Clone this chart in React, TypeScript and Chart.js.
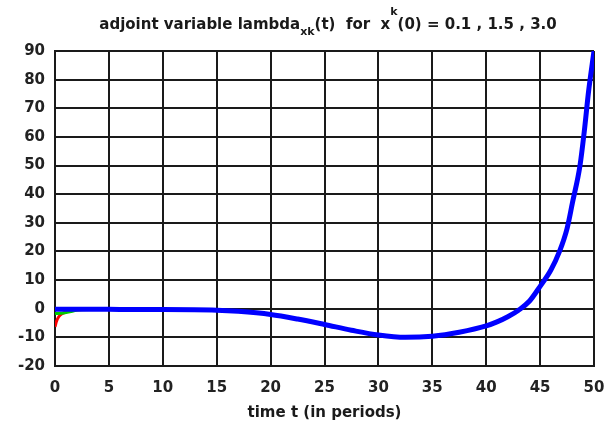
import React, { useEffect, useRef } from "react";
import { Chart, registerables } from "chart.js";

Chart.register(...registerables);

const blueT = [0, 5, 7, 10, 15, 17, 20, 22.5, 25, 27.5, 30, 32.5, 35, 37.5, 40, 41, 42, 43, 44, 45, 46, 46.8, 47.5, 48, 48.7, 49.1, 49.5, 50];
const blueY = [-0.2, -0.2, -0.3, -0.3, -0.5, -0.9, -2, -3.6, -5.5, -7.5, -9.2, -10, -9.6, -8.2, -6, -4.6, -2.8, -0.5, 2.6, 7.8, 13.5, 20, 28, 37, 50, 62, 76, 90];
const greenT = [0, 0.8, 1.5, 2.2, 5];
const greenY = [-1.7, -1.5, -1.0, -0.4, -0.2];
const redT = [0, 0.15, 0.35, 0.6, 0.9, 1.3, 3];
const redY = [-6.3, -4.3, -2.8, -1.9, -1.3, -0.6, -0.2];

const xTicksMin = 0;
const xTicksMax = 50;
const xStep = 5;
const yTicksMin = -20;
const yTicksMax = 90;
const yStep = 10;

const xTitle = "time t (in periods)";
const titleParts = [
  { text: "adjoint variable lambda", kind: "n" },
  { text: "xk", kind: "sub" },
  { text: "(t)  for  x", kind: "n" },
  { text: "k", kind: "sup" },
  { text: "(0) = 0.1 , 1.5 , 3.0", kind: "n" },
];

const FONT = "'DejaVu Sans', Verdana, sans-serif";

const toPts = (t: number[], y: number[]) => t.map((v, i) => ({ x: v, y: y[i] }));

const titlePlugin = {
  id: "customTitle",
  afterDraw(chart: any) {
    const ctx = chart.ctx as CanvasRenderingContext2D;
    ctx.save();
    const mainFont = `bold 15px ${FONT}`;
    const smallFont = `bold 11px ${FONT}`;
    let total = 0;
    const widths = titleParts.map((p) => {
      ctx.font = p.kind === "n" ? mainFont : smallFont;
      const w = ctx.measureText(p.text).width;
      total += w;
      return w;
    });
    const cx = 328;
    const baseY = 29;
    let x = cx - total / 2;
    ctx.fillStyle = "#1a1a1a";
    ctx.textBaseline = "alphabetic";
    ctx.textAlign = "left";
    titleParts.forEach((p, i) => {
      ctx.font = p.kind === "n" ? mainFont : smallFont;
      const y = p.kind === "sub" ? baseY + 6 : p.kind === "sup" ? baseY - 14 : baseY;
      ctx.fillText(p.text, x, y);
      x += widths[i];
    });
    ctx.restore();
  },
};

export default function App() {
  const ref = useRef<HTMLCanvasElement | null>(null);
  useEffect(() => {
    if (!ref.current) return;
    Chart.defaults.font.family = FONT;
    Chart.defaults.color = "#1a1a1a";
    const chart = new Chart(ref.current, {
      type: "line",
      data: {
        datasets: [
          {
            data: toPts(blueT, blueY),
            borderColor: "#0000ff",
            borderWidth: 5,
            pointRadius: 0,
            cubicInterpolationMode: "monotone",
            fill: false,
            order: 1,
          },
          {
            data: toPts(greenT, greenY),
            borderColor: "#00cc00",
            borderWidth: 3,
            pointRadius: 0,
            cubicInterpolationMode: "monotone",
            fill: false,
            order: 2,
          },
          {
            data: toPts(redT, redY),
            borderColor: "#ff0000",
            borderWidth: 3,
            pointRadius: 0,
            cubicInterpolationMode: "monotone",
            fill: false,
            order: 3,
          },
        ],
      },
      options: {
        responsive: false,
        animation: false,
        events: [],
        layout: { padding: { top: 51, right: 13, left: 0, bottom: 0 } },
        plugins: { legend: { display: false }, tooltip: { enabled: false }, title: { display: false } },
        scales: {
          x: {
            type: "linear",
            min: xTicksMin,
            max: xTicksMax,
            ticks: { stepSize: xStep, padding: 13, font: { size: 15, weight: "bold" }, color: "#222", maxRotation: 0, autoSkip: false },
            grid: { color: "#1a1a1a", lineWidth: 2, drawTicks: false },
            border: { color: "#1a1a1a", width: 2 },
            title: { display: true, text: xTitle, font: { size: 15, weight: "bold" }, color: "#1a1a1a", padding: { top: 0, bottom: 2 } },
            afterFit(scale: any) {
              scale.height = 58;
              scale.paddingLeft = 0;
              scale.paddingRight = 0;
            },
          },
          y: {
            type: "linear",
            min: yTicksMin,
            max: yTicksMax,
            ticks: { stepSize: yStep, padding: 10, font: { size: 15, weight: "bold" }, color: "#222", autoSkip: false },
            grid: { color: "#1a1a1a", lineWidth: 2, drawTicks: false },
            border: { color: "#1a1a1a", width: 2 },
            afterFit(scale: any) {
              scale.width = 55;
              scale.paddingTop = 0;
              scale.paddingBottom = 0;
            },
          },
        },
      },
      plugins: [titlePlugin],
    } as any);
    return () => chart.destroy();
  }, []);
  return (
    <div style={{ position: "absolute", left: 0, top: 0, width: 607, height: 424, background: "#fff" }}>
      <canvas ref={ref} width={607} height={424} style={{ width: 607, height: 424 }} />
    </div>
  );
}
